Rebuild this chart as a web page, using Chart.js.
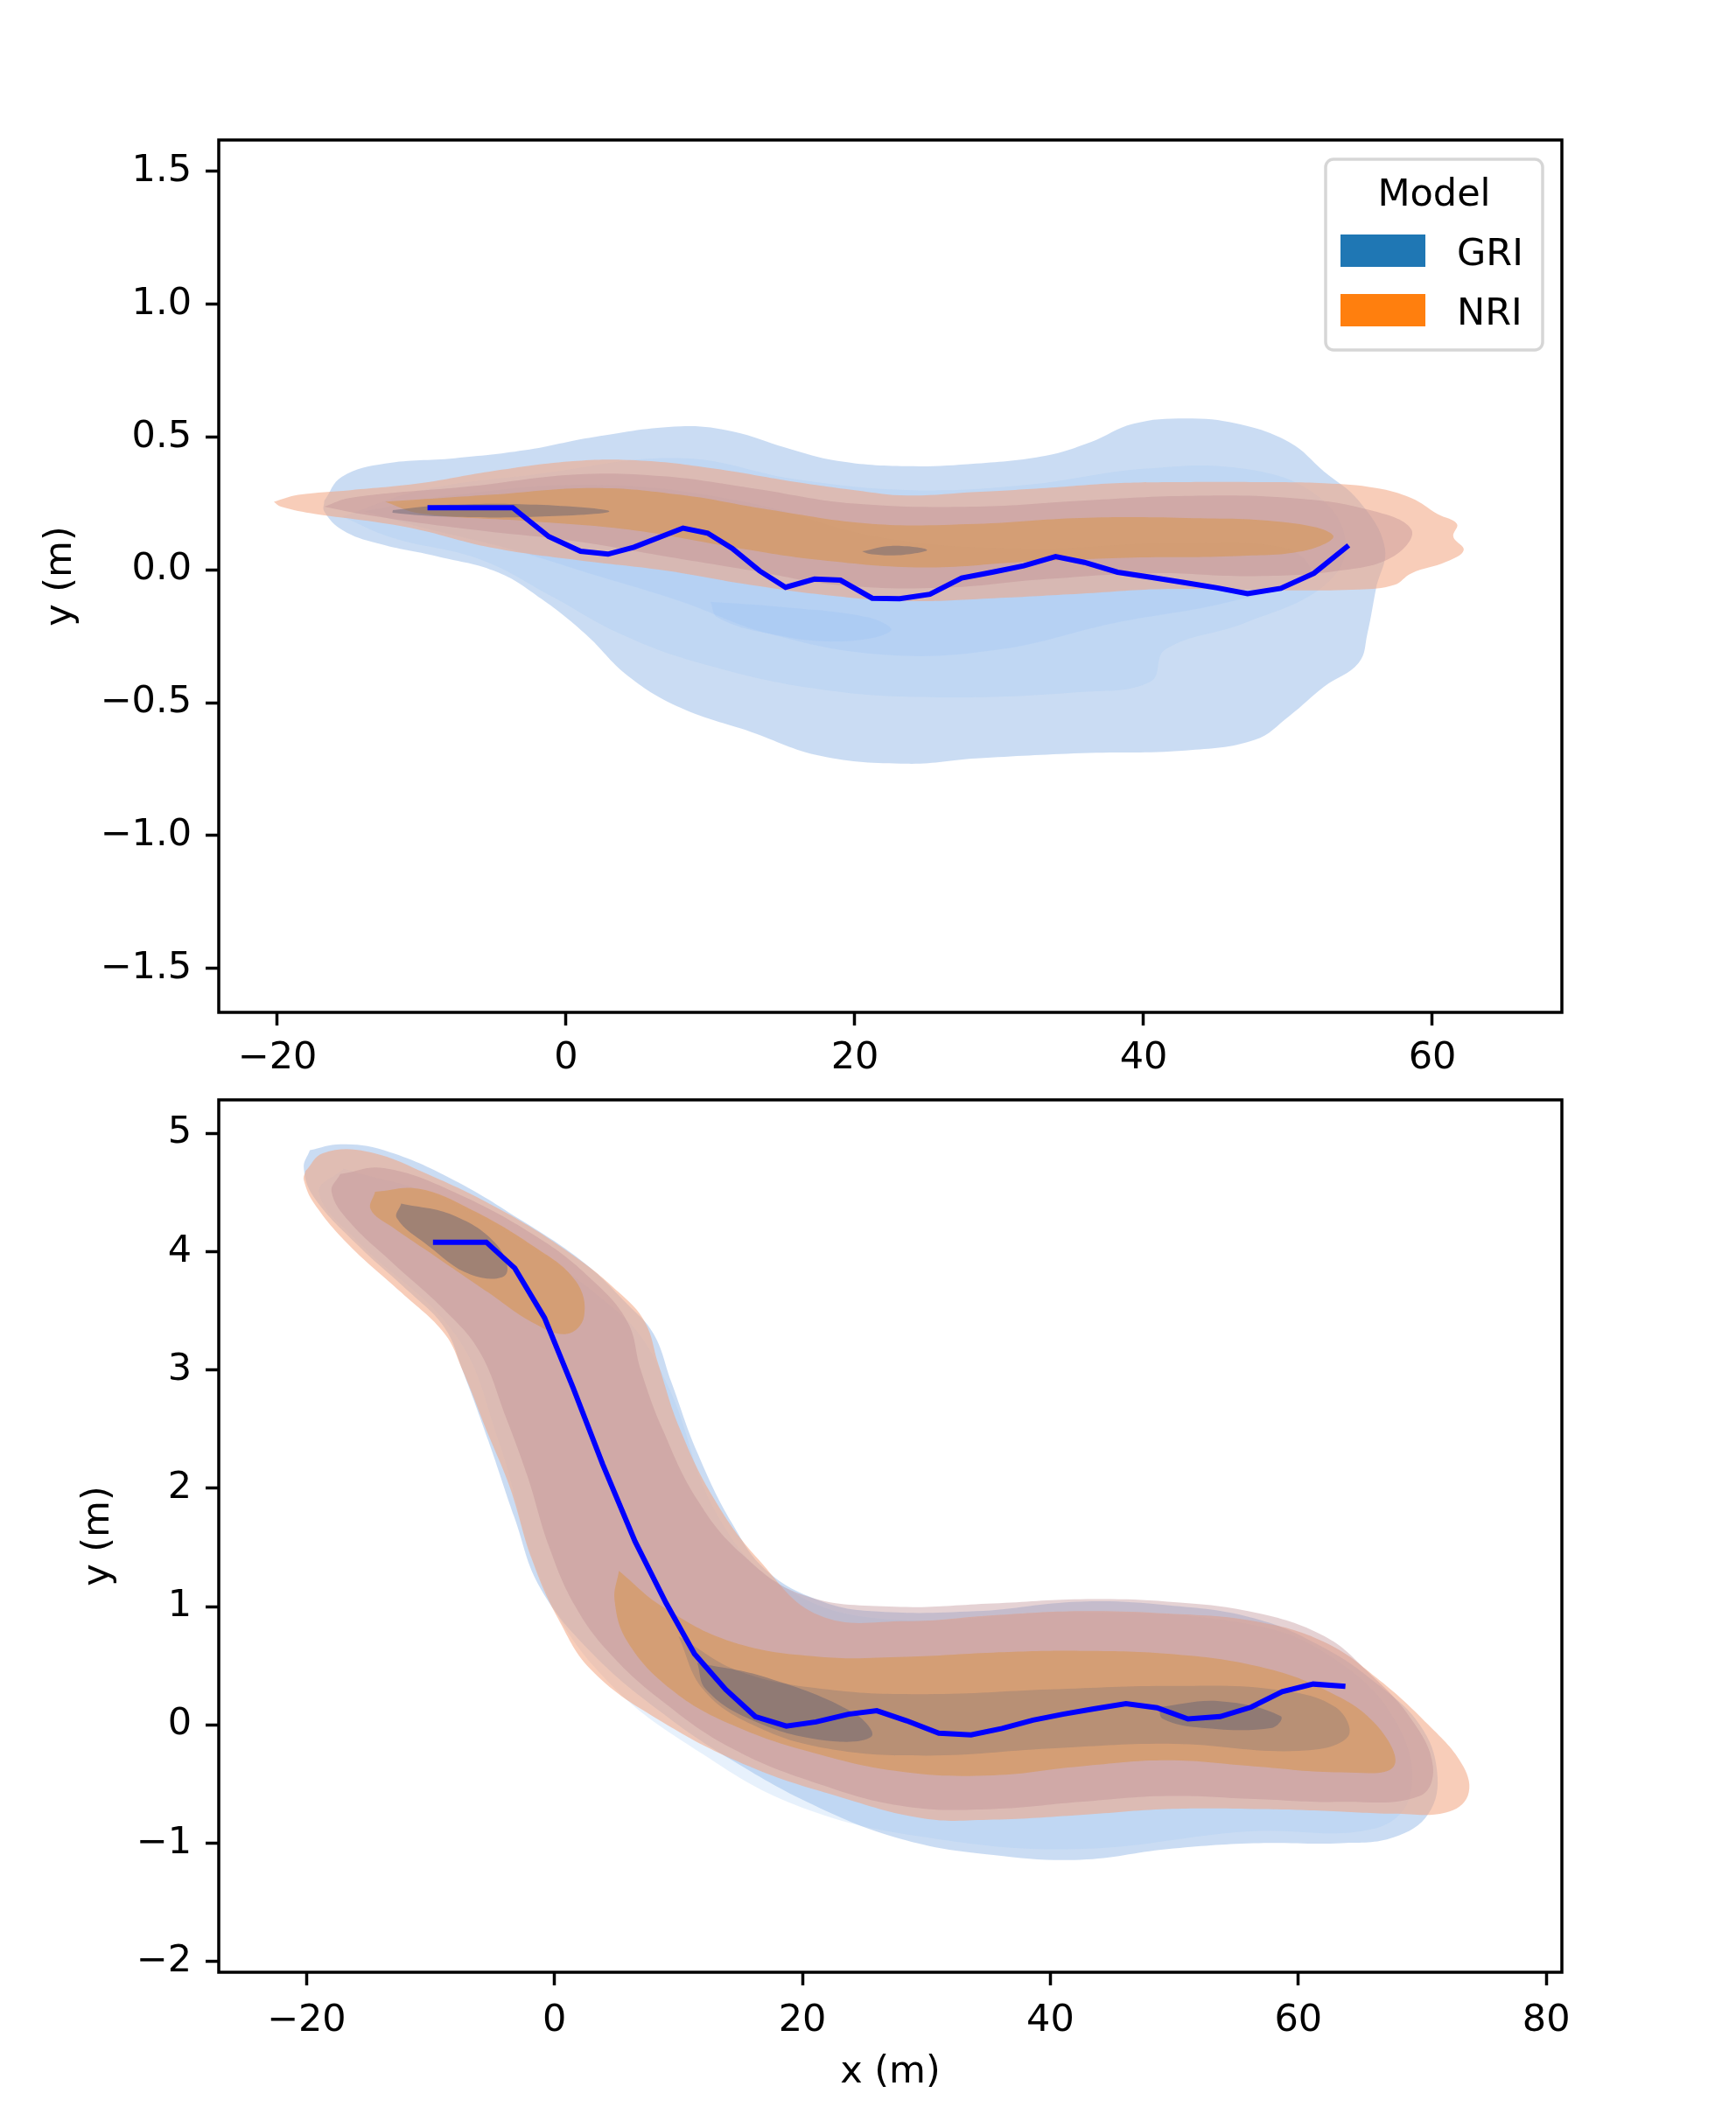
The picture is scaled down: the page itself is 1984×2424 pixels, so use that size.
<!DOCTYPE html>
<html>
<head>
<meta charset="utf-8">
<script src="https://cdn.jsdelivr.net/npm/chart.js@4.4.1/dist/chart.umd.min.js"></script>
<style>
  html, body { margin: 0; padding: 0; background: #fff; }
  #wrap { position: relative; width: 1984px; height: 2424px; }
  .panel { position: absolute; left: 0; width: 1984px; }
  #topPanel { top: 0; height: 1250px; }
  #bottomPanel { top: 1200px; height: 1224px; }
</style>
</head>
<body>
<div id="wrap">
  <div class="panel" id="topPanel"><canvas id="topChart" width="1984" height="1250"></canvas></div>
  <div class="panel" id="bottomPanel"><canvas id="bottomChart" width="1984" height="1224"></canvas></div>
</div>
<script>
// ---- data ----
const legendTitle = 'Model'
const legendLabels = ['GRI', 'NRI']
const legendColors = ['#1f77b4', '#ff7f0e']

const topXTicks = [-20, 0, 20, 40, 60]
const topYTicks = [-1.5, -1.0, -0.5, 0.0, 0.5, 1.0, 1.5]
const bottomXTicks = [-20, 0, 20, 40, 60, 80]
const bottomYTicks = [-2, -1, 0, 1, 2, 3, 4, 5]

// observed trajectories (x, y in metres)
const topTrajX = [-9.6, -7.6, -5.7, -3.7, -1.2, 1.0, 2.9, 4.7, 8.1, 9.8, 11.5, 13.4, 15.2, 17.2, 19.0, 21.2, 23.1, 25.2, 27.4, 29.5, 31.7, 33.9, 35.9, 38.2, 40.5, 42.8, 45.1, 47.2, 49.5, 51.8, 54.2]
const topTrajY = [0.234, 0.234, 0.234, 0.234, 0.125, 0.070, 0.059, 0.085, 0.157, 0.138, 0.081, -0.004, -0.066, -0.035, -0.039, -0.107, -0.109, -0.092, -0.031, -0.009, 0.015, 0.05, 0.028, -0.009, -0.028, -0.048, -0.068, -0.09, -0.07, -0.013, 0.092]
const bottomTrajX = [-9.8, -7.7, -5.5, -3.2, -0.8, 1.5, 3.9, 6.5, 9.0, 11.3, 13.8, 16.2, 18.7, 21.1, 23.7, 26.0, 28.4, 31.0, 33.6, 36.1, 38.6, 41.0, 43.5, 46.1, 48.6, 51.1, 53.7, 56.2, 58.7, 61.2, 63.8]
const bottomTrajY = [4.08, 4.08, 4.08, 3.86, 3.44, 2.85, 2.20, 1.55, 1.03, 0.60, 0.30, 0.07, -0.01, 0.025, 0.09, 0.12, 0.035, -0.07, -0.085, -0.03, 0.04, 0.09, 0.135, 0.18, 0.145, 0.05, 0.07, 0.15, 0.28, 0.345, 0.325]

// density contour outlines, [x, y] per vertex
const topGri1 = [[-16.75,0.26],[-15.54,0.35],[-12.53,0.40],[-7.71,0.42],[-2.89,0.45],[1.93,0.50],[7.95,0.54],[11.57,0.52],[15.18,0.46],[18.8,0.41],[23.6,0.39],[28.4,0.40],[33.25,0.43],[36.3,0.48],[39.3,0.55],[42.9,0.57],[46.5,0.55],[50.1,0.48],[52.5,0.37],[54.9,0.26],[56.7,0.085],[56.1,-0.07],[55.5,-0.24],[54.9,-0.35],[52.5,-0.44],[50.1,-0.55],[47.7,-0.64],[42.9,-0.68],[35.7,-0.69],[28.4,-0.71],[23.6,-0.73],[17.6,-0.70],[12.8,-0.61],[7.95,-0.52],[4.3,-0.40],[1.3,-0.24],[-1.7,-0.11],[-4.7,-0.01],[-8.9,0.05],[-13.1,0.10],[-15.5,0.15],[-16.75,0.22]]
const topGri2 = [[-15.5,0.2],[-10,0.3],[-2,0.36],[8,0.42],[16,0.34],[24,0.3],[32,0.32],[40,0.38],[47,0.38],[52,0.28],[54,0.1],[52.5,-0.06],[47,-0.2],[41.5,-0.3],[40.5,-0.42],[35.7,-0.46],[26,-0.48],[17.6,-0.45],[9.2,-0.35],[3.7,-0.24],[-1,-0.1],[-6,0.04],[-12,0.12]]
const topGri3 = [[-14,0.22],[-8,0.28],[2,0.32],[12,0.26],[22,0.12],[32,0.08],[42,0.1],[50,0.08],[51.5,-0.02],[46,-0.12],[38,-0.2],[30,-0.3],[22,-0.32],[14,-0.24],[8,-0.12],[2,-0.02],[-4,0.08],[-10,0.16]]
const topGri4 = [[10,-0.12],[15,-0.14],[21,-0.18],[22.5,-0.23],[19,-0.27],[14,-0.24],[10.5,-0.18]]

const topNri1 = [[-20.24,0.256],[-18.55,0.282],[-14.94,0.30],[-10.12,0.326],[-5.3,0.37],[0.72,0.41],[5.54,0.41],[10.36,0.38],[15.18,0.337],[20.0,0.30],[23.6,0.28],[28.4,0.293],[33.25,0.308],[38.07,0.326],[42.9,0.33],[47.7,0.33],[52.5,0.326],[56.1,0.308],[58.55,0.27],[60.36,0.21],[61.7,0.173],[61.45,0.125],[62.17,0.074],[60.96,0.03],[58.55,-0.013],[57.35,-0.057],[54.94,-0.074],[47.7,-0.077],[41.7,-0.072],[35.66,-0.09],[29.64,-0.107],[23.6,-0.118],[18.8,-0.10],[12.77,-0.057],[6.75,-0.002],[0.72,0.037],[-5.3,0.085],[-10.12,0.15],[-13.73,0.184],[-17.35,0.21],[-19.76,0.238]]
const topNri2 = [[-16.75,0.238],[-14.94,0.271],[-6.5,0.315],[0.72,0.359],[6.75,0.352],[12.77,0.308],[20.0,0.249],[28.43,0.238],[35.66,0.26],[42.9,0.278],[50.1,0.271],[55.5,0.227],[58.55,0.151],[57.35,0.052],[53.73,-0.002],[47.7,-0.024],[40.5,-0.013],[33.25,-0.035],[26.0,-0.068],[18.8,-0.057],[12.77,-0.002],[6.75,0.052],[0.72,0.107],[-6.5,0.151],[-13.73,0.206]]
const topNri3 = [[-12.53,0.256],[-5.3,0.282],[1.93,0.308],[7.95,0.282],[13.98,0.227],[21.2,0.173],[28.43,0.173],[35.66,0.195],[42.9,0.195],[50.1,0.177],[53.13,0.129],[51.33,0.074],[46.5,0.052],[39.28,0.046],[32.05,0.031],[24.8,0.009],[17.6,0.037],[11.57,0.085],[4.34,0.151],[-2.9,0.184],[-10.12,0.212]]
const topNri4a = [[-12,0.225],[-8,0.245],[-2,0.245],[3,0.22],[-2,0.2],[-8,0.2],[-12,0.215]]
const topNri4b = [[20.5,0.07],[22.5,0.09],[25,0.075],[23,0.055],[21,0.06]]

const bottomGri1 = [[-19.73,4.857],[-17.27,4.907],[-13.76,4.857],[-8.15,4.607],[-2.53,4.256],[2.39,3.906],[5.9,3.555],[8.0,3.305],[9.41,2.904],[11.52,2.303],[14.33,1.703],[17.13,1.302],[21.35,1.052],[25.56,0.961],[33.99,0.961],[42.42,1.042],[49.44,1.012],[56.46,0.901],[62.08,0.651],[66.29,0.351],[69.8,0.0],[71.2,-0.40],[70.5,-0.751],[67.7,-0.951],[63.5,-1.0],[56.46,-1.0],[49.44,-1.05],[42.42,-1.14],[35.4,-1.10],[28.37,-0.976],[21.35,-0.70],[14.33,-0.30],[8.7,0.10],[3.09,0.60],[-1.12,1.152],[-3.23,1.753],[-5.34,2.404],[-7.44,3.004],[-8.85,3.355],[-11.66,3.655],[-15.87,4.056],[-19.38,4.457],[-20.22,4.707]]
const bottomGri2 = [[-17,4.7],[-8,4.4],[5,3.5],[9,2.9],[13,1.8],[18,1.2],[26,0.9],[42,0.95],[56,0.85],[63,0.55],[68,0],[69,-0.6],[66,-0.88],[56,-0.9],[42,-1.05],[30,-0.95],[20,-0.7],[12,-0.25],[4,0.4],[-1,1.2],[-4.5,2.4],[-8,3.3],[-16,4.1],[-19,4.5]]

const bottomNri1 = [[-20.08,4.682],[-18.68,4.832],[-15.17,4.847],[-10.25,4.657],[-3.93,4.331],[1.69,3.956],[5.2,3.655],[7.3,3.405],[8.36,3.055],[10.11,2.504],[12.92,1.903],[16.43,1.402],[21.35,0.926],[28.37,0.876],[35.39,0.926],[42.42,0.961],[49.44,0.941],[56.46,0.876],[62.08,0.701],[66.29,0.40],[70.5,0.0],[73.3,-0.35],[73.67,-0.60],[71.9,-0.741],[67.7,-0.751],[62.08,-0.726],[56.46,-0.711],[49.44,-0.711],[42.42,-0.761],[35.39,-0.801],[29.78,-0.791],[22.75,-0.601],[15.73,-0.351],[8.7,0.025],[3.09,0.451],[0.28,0.901],[-1.83,1.402],[-3.58,2.003],[-5.34,2.454],[-7.44,3.004],[-8.85,3.305],[-12.36,3.655],[-16.57,4.056],[-19.38,4.407],[-20.22,4.607]]
const bottomNri2 = [[-17.28,4.657],[-13.76,4.707],[-8.15,4.507],[-1.12,4.106],[3.09,3.756],[5.9,3.405],[6.95,3.004],[8.7,2.504],[11.52,1.903],[15.03,1.452],[19.94,1.102],[26.97,1.0],[35.39,1.027],[42.42,1.062],[49.44,1.042],[56.46,0.951],[62.08,0.751],[65.59,0.451],[69.1,0.05],[70.86,-0.351],[69.8,-0.601],[63.48,-0.651],[56.46,-0.626],[49.44,-0.601],[42.42,-0.651],[35.39,-0.711],[28.37,-0.691],[21.35,-0.501],[14.33,-0.20],[8.7,0.20],[4.49,0.601],[1.69,1.0],[-0.42,1.502],[-2.18,2.103],[-3.93,2.604],[-6.04,3.155],[-8.85,3.505],[-13.06,3.906],[-16.57,4.256],[-17.98,4.507]]
const bottomNri3a = [[-14.47,4.507],[-10.96,4.532],[-6.74,4.357],[-1.83,4.056],[1.69,3.756],[2.39,3.455],[0.98,3.305],[-1.83,3.405],[-5.34,3.655],[-9.55,3.956],[-13.06,4.206],[-14.82,4.357]]
const bottomNri3b = [[5.2,1.302],[8.7,1.0],[14.33,0.701],[21.35,0.576],[28.37,0.576],[35.39,0.611],[42.42,0.626],[49.44,0.601],[56.46,0.501],[62.08,0.30],[66.29,0.0],[67.7,-0.351],[63.48,-0.401],[56.46,-0.351],[49.44,-0.30],[42.42,-0.351],[35.39,-0.426],[28.37,-0.401],[21.35,-0.25],[14.33,0.0],[9.41,0.30],[5.9,0.701],[4.85,1.052]]
const bottomNri3c = [[10,0.75],[15,0.45],[22,0.3],[30,0.26],[40,0.3],[50,0.33],[58,0.3],[63,0.15],[64,-0.1],[60,-0.22],[50,-0.16],[40,-0.2],[30,-0.26],[22,-0.2],[16,0],[12,0.3]]
const bottomNri4a = [[-12.36,4.407],[-8.15,4.307],[-4.63,4.056],[-3.93,3.806],[-6.74,3.806],[-10.25,4.056],[-12.71,4.282]]
const bottomNri4b = [[11.52,0.526],[17.13,0.40],[24.16,0.10],[25.56,-0.10],[21.35,-0.125],[15.73,0.05],[12.22,0.30]]
const bottomNri4c = [[48.74,0.15],[53.65,0.20],[58.57,0.075],[57.87,-0.025],[52.25,-0.025],[49.09,0.05]]

// fill colour per density level (outer -> inner)
const griLevelColors = ['rgba(167,197,235,0.6)', 'rgba(160,198,245,0.25)', 'rgba(150,192,245,0.22)', 'rgba(140,186,245,0.2)']
const nriLevelColors = ['rgba(242,164,128,0.55)', 'rgba(190,142,147,0.4)', 'rgba(218,145,55,0.45)', 'rgba(120,110,115,0.3)', 'rgba(95,95,115,0.45)']
const trajColor = '#0000ff'

// ---- helpers ----
Chart.defaults.font.family = '"DejaVu Sans", sans-serif'
Chart.defaults.font.size = 43
Chart.defaults.color = '#000'

const fmt = v => String(v).replace('-', '\u2212')
const fmt1 = v => v.toFixed(1).replace('-', '\u2212')

function contourSet(points, color) {
    const data = points.map(p => ({ x: p[0], y: p[1] }))
    data.push({ x: points[0][0], y: points[0][1] })
    return {
        data: data,
        fill: 'shape',
        backgroundColor: color,
        borderColor: 'rgba(0,0,0,0)',
        borderWidth: 0,
        pointRadius: 0,
        tension: 0.4
    }
}

function trajSet(xs, ys) {
    return {
        data: xs.map((x, i) => ({ x: x, y: ys[i] })),
        fill: false,
        borderColor: trajColor,
        borderWidth: 6,
        pointRadius: 0,
        tension: 0
    }
}

// layers listed bottom first; chart.js draws lower order on top
function stack(list) {
    list.forEach((d, i) => { d.order = list.length - i })
    return list
}

const frame = {
    id: 'frame',
    afterDatasetsDraw(chart) {
        const a = chart.chartArea
        const ctx = chart.ctx
        ctx.save()
        ctx.lineWidth = 3.5
        ctx.strokeStyle = '#000'
        ctx.strokeRect(a.left, a.top, a.right - a.left, a.bottom - a.top)
        ctx.restore()
    }
}

const legendBox = {
    id: 'legendBox',
    afterDraw(chart) {
        const ctx = chart.ctx
        const a = chart.chartArea
        const w = 248, h = 218
        const x = a.right - 22 - w, y = a.top + 22
        ctx.save()
        ctx.beginPath()
        ctx.roundRect(x, y, w, h, 9)
        ctx.fillStyle = 'rgba(255,255,255,0.8)'
        ctx.fill()
        ctx.lineWidth = 3.5
        ctx.strokeStyle = '#d6d6d6'
        ctx.stroke()
        ctx.font = '43px "DejaVu Sans"'
        ctx.fillStyle = '#000'
        ctx.textAlign = 'center'
        ctx.textBaseline = 'alphabetic'
        ctx.fillText(legendTitle, x + w / 2, y + 53)
        ctx.textAlign = 'left'
        legendLabels.forEach((lab, i) => {
            const ry = y + 86 + i * 68
            ctx.fillStyle = legendColors[i]
            ctx.fillRect(x + 17, ry, 97, 37)
            ctx.fillStyle = '#000'
            ctx.fillText(lab, x + 150, ry + 35)
        })
        ctx.restore()
    }
}

function axisOptions(min, max, ticks, format, pad, extra) {
    return Object.assign({
        type: 'linear',
        min: min,
        max: max,
        afterBuildTicks: s => { s.ticks = ticks.map(v => ({ value: v })) },
        ticks: { callback: v => format(v), autoSkip: false, maxRotation: 0, color: '#000', padding: pad },
        grid: { display: true, drawOnChartArea: false, drawTicks: true, tickLength: 15, tickWidth: 3.5, tickColor: '#000' },
        border: { display: false }
    }, extra)
}

function makeChart(id, datasets, cfg) {
    return new Chart(id, {
        type: 'line',
        data: { datasets: datasets },
        options: {
            responsive: false,
            animation: false,
            events: [],
            layout: { padding: { left: 0, right: 199, top: cfg.top, bottom: 0 } },
            plugins: { legend: { display: false }, tooltip: { enabled: false } },
            scales: {
                x: axisOptions(cfg.xMin, cfg.xMax, cfg.xTicks, fmt, cfg.xPad, {
                    afterFit: s => { s.height = cfg.xHeight },
                    title: cfg.xTitle
                }),
                y: axisOptions(cfg.yMin, cfg.yMax, cfg.yTicks, cfg.yFormat, 16, {
                    afterFit: s => { s.width = 250 },
                    title: { display: true, text: 'y (m)', padding: { top: cfg.yTitlePad, bottom: 0 } }
                })
            }
        },
        plugins: cfg.plugins
    })
}

// ---- top panel ----
const topSets = stack([
    contourSet(topGri1, griLevelColors[0]),
    contourSet(topGri2, griLevelColors[1]),
    contourSet(topGri3, griLevelColors[2]),
    contourSet(topGri4, griLevelColors[3]),
    contourSet(topNri1, nriLevelColors[0]),
    contourSet(topNri2, nriLevelColors[1]),
    contourSet(topNri3, nriLevelColors[2]),
    contourSet(topNri4a, nriLevelColors[4]),
    contourSet(topNri4b, nriLevelColors[4]),
    trajSet(topTrajX, topTrajY)
])

makeChart('topChart', topSets, {
    top: 160, xHeight: 93, xPad: 12,
    xMin: -24.06, xMax: 68.97, xTicks: topXTicks,
    yMin: -1.666, yMax: 1.618, yTicks: topYTicks, yFormat: fmt1,
    yTitlePad: 44,
    xTitle: { display: false },
    plugins: [frame, legendBox]
})

// ---- bottom panel ----
const bottomSets = stack([
    contourSet(bottomGri1, griLevelColors[0]),
    contourSet(bottomGri2, griLevelColors[1]),
    contourSet(bottomNri1, nriLevelColors[0]),
    contourSet(bottomNri2, nriLevelColors[1]),
    contourSet(bottomNri3a, nriLevelColors[2]),
    contourSet(bottomNri3b, nriLevelColors[2]),
    contourSet(bottomNri3c, nriLevelColors[3]),
    contourSet(bottomNri4a, nriLevelColors[4]),
    contourSet(bottomNri4b, nriLevelColors[4]),
    contourSet(bottomNri4c, nriLevelColors[4]),
    trajSet(bottomTrajX, bottomTrajY)
])

makeChart('bottomChart', bottomSets, {
    top: 57, xHeight: 170, xPad: 15,
    xMin: -27.08, xMax: 81.26, xTicks: bottomXTicks,
    yMin: -2.091, yMax: 5.283, yTicks: bottomYTicks, yFormat: fmt,
    yTitlePad: 87,
    xTitle: { display: true, text: 'x (m)', padding: { top: 0, bottom: 29 } },
    plugins: [frame]
})
</script>
</body>
</html>
